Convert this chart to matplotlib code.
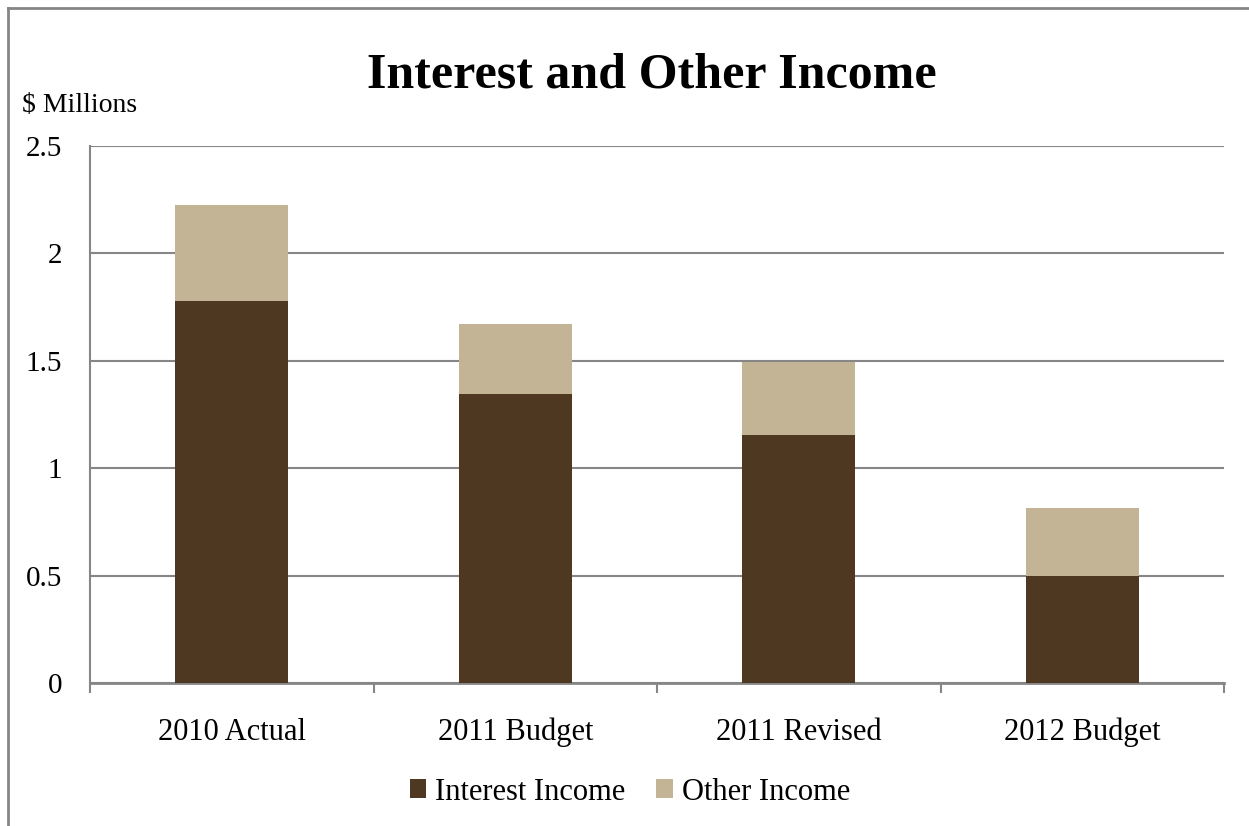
import matplotlib.pyplot as plt

# Interest and other income by budget year ($ millions)
categories = ['2010 Actual', '2011 Budget', '2011 Revised', '2012 Budget']
interest_income = [1.78, 1.345, 1.155, 0.50]
other_income = [0.445, 0.325, 0.34, 0.315]

dark_brown = '#4F3821'
tan = '#C4B496'
grid_grey = '#868686'

plt.rcParams['font.family'] = ['Liberation Serif', 'DejaVu Serif']

fig = plt.figure(figsize=(12.49, 8.26), dpi=100)
ax = fig.add_axes([90 / 1249, 1 - 683 / 826, (1224 - 90) / 1249, (683 - 146) / 826])

x = range(len(categories))
ax.bar(x, interest_income, width=0.4, color=dark_brown, label='Interest Income', zorder=3)
ax.bar(x, other_income, width=0.4, bottom=interest_income, color=tan,
       label='Other Income', zorder=3)

ax.set_xlim(-0.5, len(categories) - 0.5)
ax.set_ylim(0, 2.5)
ax.set_yticks([0, 0.5, 1, 1.5, 2, 2.5])
ax.set_yticklabels(['0', '0.5', '1', '1.5', '2', '2.5'])
ax.yaxis.grid(True, color=grid_grey, linewidth=1.5, zorder=0)
ax.tick_params(axis='y', length=0, pad=20, labelsize=21)

# category labels centred, tick marks between categories
ax.set_xticks(list(x))
ax.set_xticklabels(categories)
ax.tick_params(axis='x', length=0, pad=25, labelsize=22)
ax.set_xticks([i - 0.5 for i in range(len(categories) + 1)], minor=True)
ax.tick_params(axis='x', which='minor', length=7, width=1.5, color=grid_grey, direction='out')

for side in ['top', 'right']:
    ax.spines[side].set_visible(False)
ax.spines['left'].set_color(grid_grey)
ax.spines['left'].set_linewidth(1.5)
ax.spines['bottom'].set_color(grid_grey)
ax.spines['bottom'].set_linewidth(2)

fig.text(652 / 1249, 1 - 75 / 826, 'Interest and Other Income', ha='center', va='center',
         fontsize=36, fontweight='bold')
fig.text(22 / 1249, 1 - 106 / 826, '$ Millions', ha='left', va='center', fontsize=20)

fig.legend(loc='center', bbox_to_anchor=(630 / 1249, 1 - 792 / 826), ncol=2, frameon=False,
           fontsize=22, handlelength=0.55, handleheight=0.55, handletextpad=0.3,
           columnspacing=1.0)

# outer chart border (top and left edges)
fig.add_artist(plt.Line2D([8 / 1249, 1], [1 - 8 / 826, 1 - 8 / 826], color=grid_grey,
                          linewidth=2, transform=fig.transFigure))
fig.add_artist(plt.Line2D([8 / 1249, 8 / 1249], [0, 1 - 8 / 826], color=grid_grey,
                          linewidth=2, transform=fig.transFigure))

fig.savefig('out.png', dpi=100)
